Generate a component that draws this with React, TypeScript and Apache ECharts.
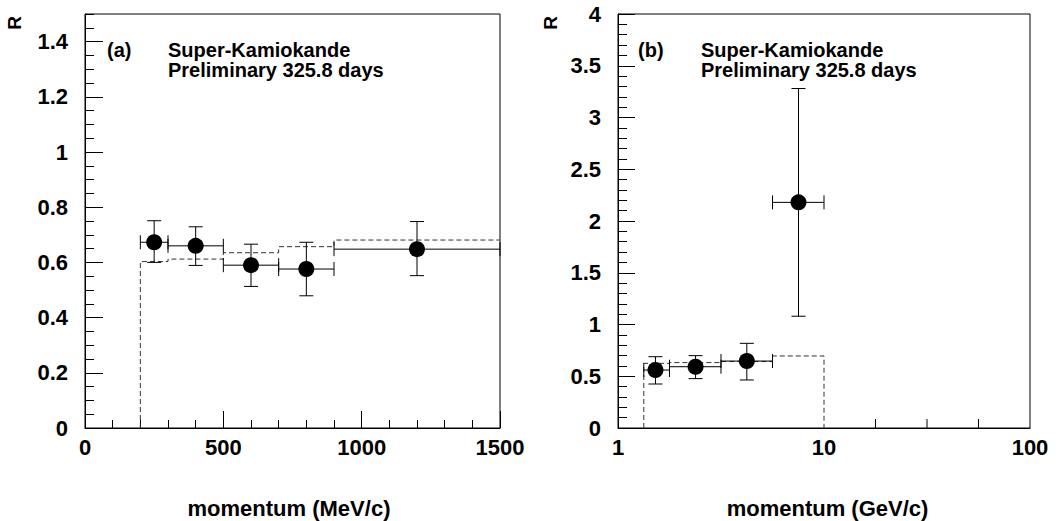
import React, { useEffect, useRef } from "react";
import * as echarts from "echarts";

// ---- Panel (a): momentum in MeV/c ----
const pointsXA = [250, 400, 600, 800, 1200];
const pointsYA = [0.673, 0.66, 0.59, 0.576, 0.648];
const binLoA = [200, 300, 500, 700, 900];
const binHiA = [300, 500, 700, 900, 1500];
const errLoA = [0.6, 0.589, 0.513, 0.479, 0.552];
const errHiA = [0.751, 0.729, 0.666, 0.673, 0.748];
const mcEdgesA = [200, 300, 500, 700, 900, 1500];
const mcValuesA = [0.603, 0.612, 0.635, 0.657, 0.681];

// ---- Panel (b): momentum in GeV/c (log axis) ----
const pointsXB = [1.52, 2.38, 4.22, 7.52];
const pointsYB = [0.56, 0.592, 0.647, 2.18];
const binLoB = [1.334, 1.778, 3.162, 5.623];
const binHiB = [1.778, 3.162, 5.623, 10];
const errLoB = [0.425, 0.477, 0.464, 1.08];
const errHiB = [0.689, 0.699, 0.818, 3.28];
const mcEdgesB = [1.334, 1.778, 3.162, 5.623, 10];
const mcValuesB = [0.625, 0.632, 0.642, 0.696];
const logMinorTicksB = [17.78, 31.62, 56.23];

const FONT = "Liberation Sans, Arial, Helvetica, sans-serif";

function stepLine(edges: number[], values: number[], closeRight: boolean) {
  const pts: number[][] = [[edges[0], 0]];
  values.forEach((v, i) => {
    pts.push([edges[i], v]);
    pts.push([edges[i + 1], v]);
  });
  if (closeRight) pts.push([edges[edges.length - 1], 0]);
  return pts;
}

function errData(x: number[], y: number[], lo: number[], hi: number[], elo: number[], ehi: number[]) {
  return x.map((v, i) => [v, y[i], lo[i], hi[i], elo[i], ehi[i]]);
}

const CAP = 7;
function renderErr(params: any, api: any) {
  const x = api.value(0);
  const y = api.value(1);
  const c = api.coord([x, y]);
  const l = api.coord([api.value(2), y]);
  const r = api.coord([api.value(3), y]);
  const t = api.coord([x, api.value(5)]);
  const b = api.coord([x, api.value(4)]);
  const st = { stroke: "#000", lineWidth: 1 };
  return {
    type: "group",
    children: [
      { type: "line", shape: { x1: l[0], y1: c[1], x2: r[0], y2: c[1] }, style: st },
      { type: "line", shape: { x1: l[0], y1: c[1] - CAP, x2: l[0], y2: c[1] + CAP }, style: st },
      { type: "line", shape: { x1: r[0], y1: c[1] - CAP, x2: r[0], y2: c[1] + CAP }, style: st },
      { type: "line", shape: { x1: c[0], y1: t[1], x2: c[0], y2: b[1] }, style: st },
      { type: "line", shape: { x1: c[0] - CAP, y1: t[1], x2: c[0] + CAP, y2: t[1] }, style: st },
      { type: "line", shape: { x1: c[0] - CAP, y1: b[1], x2: c[0] + CAP, y2: b[1] }, style: st },
    ],
  };
}

function renderTick(params: any, api: any) {
  const p = api.coord([api.value(0), api.value(1)]);
  return {
    type: "line",
    shape: { x1: p[0], y1: p[1], x2: p[0], y2: p[1] - 9 },
    style: { stroke: "#000", lineWidth: 1 },
  };
}

const labelStyle = { fontFamily: FONT, fontWeight: "bold", fontSize: 22, color: "#000" };
const axisLine = { show: true, lineStyle: { color: "#000", width: 1 } };
const fmt = (v: number) => String(+v.toFixed(4));

function textEl(text: string, x: number, y: number, size: number, extra: any = {}) {
  return {
    type: "text",
    x,
    y,
    ...extra,
    style: {
      text,
      fill: "#000",
      font: `bold ${size}px ${FONT}`,
      textVerticalAlign: "middle",
      verticalAlign: "middle",
      textAlign: extra.align || "left",
      align: extra.align || "left",
    },
  };
}

export default function App() {
  const ref = useRef<HTMLDivElement>(null);
  useEffect(() => {
    if (!ref.current) return;
    const chart = echarts.init(ref.current, null, { renderer: "svg" });
    const option: any = {
      animation: false,
      backgroundColor: "#fff",
      grid: [
        { left: 85, top: 14, width: 415, height: 414, show: true, borderColor: "#000", borderWidth: 1, backgroundColor: "transparent" },
        { left: 618, top: 14, width: 412, height: 414, show: true, borderColor: "#000", borderWidth: 1, backgroundColor: "transparent" },
      ],
      xAxis: [
        {
          type: "value", gridIndex: 0, min: 0, max: 1500, interval: 500,
          axisLine,
          axisTick: { show: true, inside: true, length: 17, lineStyle: { color: "#000" } },
          minorTick: { show: true, splitNumber: 5, length: 8, lineStyle: { color: "#000" } },
          axisLabel: { ...labelStyle, margin: 8, formatter: fmt },
          splitLine: { show: false },
        },
        {
          type: "log", gridIndex: 1, min: 1, max: 100, logBase: 10,
          axisLine,
          axisTick: { show: false },
          minorTick: { show: false },
          axisLabel: { ...labelStyle, margin: 8, formatter: fmt },
          splitLine: { show: false },
          minorSplitLine: { show: false },
        },
      ],
      yAxis: [
        {
          type: "value", gridIndex: 0, min: 0, max: 1.5, interval: 0.2,
          axisLine,
          axisTick: { show: true, inside: true, length: 18, lineStyle: { color: "#000" } },
          axisLabel: { ...labelStyle, margin: 17, showMaxLabel: false, formatter: fmt },
          splitLine: { show: false },
        },
        {
          type: "value", gridIndex: 0, min: 0, max: 1.5, interval: 0.05, position: "left",
          axisLine: { show: false },
          axisTick: { show: true, inside: true, length: 9, lineStyle: { color: "#000" } },
          axisLabel: { show: false },
          splitLine: { show: false },
        },
        {
          type: "value", gridIndex: 1, min: 0, max: 4, interval: 0.5,
          axisLine,
          axisTick: { show: true, inside: true, length: 17, lineStyle: { color: "#000" } },
          minorTick: { show: true, splitNumber: 5, length: 9, lineStyle: { color: "#000" } },
          axisLabel: { ...labelStyle, margin: 17, formatter: fmt },
          splitLine: { show: false },
        },
      ],
      series: [
        {
          type: "line", xAxisIndex: 0, yAxisIndex: 0, data: stepLine(mcEdgesA, mcValuesA, false),
          symbol: "none", lineStyle: { color: "#333", width: 1, type: [5, 3] }, z: 2,
        },
        {
          type: "custom", xAxisIndex: 0, yAxisIndex: 0,
          data: errData(pointsXA, pointsYA, binLoA, binHiA, errLoA, errHiA),
          renderItem: renderErr, z: 3,
        },
        {
          type: "scatter", xAxisIndex: 0, yAxisIndex: 0,
          data: pointsXA.map((x, i) => [x, pointsYA[i]]),
          symbol: "circle", symbolSize: 16, itemStyle: { color: "#000", opacity: 1 }, z: 4,
        },
        {
          type: "line", xAxisIndex: 1, yAxisIndex: 2, data: stepLine(mcEdgesB, mcValuesB, true),
          symbol: "none", lineStyle: { color: "#333", width: 1, type: [5, 3] }, z: 2,
        },
        {
          type: "custom", xAxisIndex: 1, yAxisIndex: 2,
          data: errData(pointsXB, pointsYB, binLoB, binHiB, errLoB, errHiB),
          renderItem: renderErr, z: 3,
        },
        {
          type: "scatter", xAxisIndex: 1, yAxisIndex: 2,
          data: pointsXB.map((x, i) => [x, pointsYB[i]]),
          symbol: "circle", symbolSize: 16, itemStyle: { color: "#000", opacity: 1 }, z: 4,
        },
        {
          type: "custom", xAxisIndex: 1, yAxisIndex: 2,
          data: logMinorTicksB.map((v) => [v, 0]),
          renderItem: renderTick, z: 5,
        },
      ],
      graphic: [
        textEl("(a)", 107, 49.5, 20),
        textEl("Super-Kamiokande", 168, 49.5, 20),
        textEl("Preliminary 325.8 days", 168, 69.5, 20),
        textEl("(b)", 638, 49.5, 20),
        textEl("Super-Kamiokande", 701, 49.5, 20),
        textEl("Preliminary 325.8 days", 701, 69.5, 20),
        textEl("momentum (MeV/c)", 289, 508, 22, { align: "center" }),
        textEl("momentum (GeV/c)", 827.5, 508, 22, { align: "center" }),
        textEl("R", 14.5, 23, 19, { align: "center", rotation: Math.PI / 2 }),
        textEl("R", 550, 23, 19, { align: "center", rotation: Math.PI / 2 }),
      ],
    };
    chart.setOption(option);
    return () => chart.dispose();
  }, []);
  return (
    <div
      ref={ref}
      style={{ position: "fixed", left: 0, top: 0, width: 1057, height: 521, background: "#fff" }}
    />
  );
}
